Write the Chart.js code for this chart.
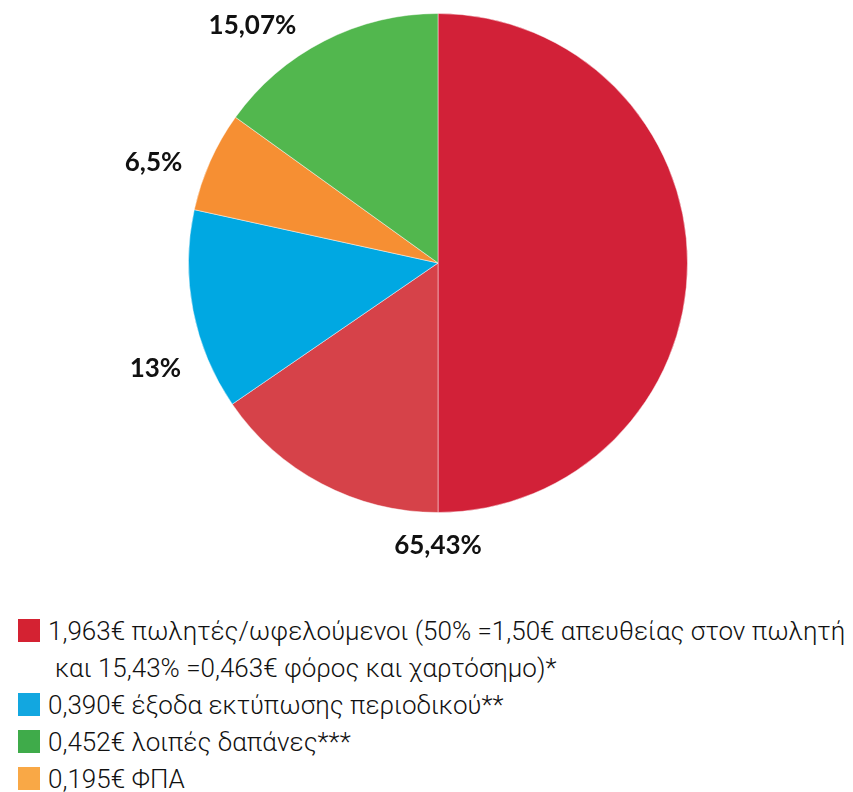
<!DOCTYPE html>
<html>
<head>
<meta charset="utf-8">
<script src="https://cdn.jsdelivr.net/npm/chart.js@4.4.0/dist/chart.umd.min.js"></script>
<style>
   html, body { margin: 0; padding: 0; background: #fff; }
   #wrap { position: relative; width: 853px; height: 792px; }
   #chart-box { position: absolute; left: 0; top: 0; width: 853px; height: 600px; }
   #legend { position: absolute; left: 18px; top: 612px; font-family: "Roboto", sans-serif; font-weight: 300; font-size: 26px; color: #111; }
   .row { display: flex; align-items: center; height: 37px; white-space: nowrap; }
   .sq { width: 22px; height: 23px; margin-right: 8px; flex: none; }
   .cont { padding-left: 37px; }
</style>
</head>
<body>
<div id="wrap">
   <div id="chart-box"><canvas id="chart-pie"></canvas></div>
   <div id="legend"></div>
</div>
<script>
// slices, clockwise from the top
var valores = [50, 15.43, 13, 6.5, 15.07];
var colores = ["#D22138", "#D64249", "#00A8E2", "#F68F33", "#52B74E"];
var etiquetas = ["65,43%", "", "13%", "6,5%", "15,07%"];

// legend
var leyendaTextos = [
   ["1,963€ πωλητές/ωφελούμενοι (50% =1,50€ απευθείας στον πωλητή", "και 15,43% =0,463€ φόρος και χαρτόσημο)*"],
   ["0,390€ έξοδα εκτύπωσης περιοδικού**"],
   ["0,452€ λοιπές δαπάνες***"],
   ["0,195€ ΦΠΑ"],
];
var leyendaColores = ["#D42232", "#12A7E0", "#3FAB4A", "#F9A846"];

function buildLegend() {
   var html = "";
   leyendaTextos.forEach(function (lineas, i) {
      html += '<div class="row"><span class="sq" style="background:' + leyendaColores[i] + '"></span>' + lineas[0] + "</div>";
      for (var k = 1; k < lineas.length; k++) {
         html += '<div class="row cont">' + lineas[k] + "</div>";
      }
   });
   document.getElementById("legend").innerHTML = html;
}

// labels outside the pie; the first label sits on the end of its slice (group of two)
var outsideLabels = {
   id: "outsideLabels",
   afterDatasetsDraw: function (chart) {
      var ctx = chart.ctx;
      var arcs = chart.getDatasetMeta(0).data;
      ctx.save();
      ctx.font = "bold 26px Lato";
      ctx.fillStyle = "#111";
      ctx.textAlign = "center";
      ctx.textBaseline = "middle";
      arcs.forEach(function (arc, i) {
         if (!etiquetas[i]) return;
         var a = i === 0 ? arc.endAngle : arc.startAngle + (arc.endAngle - arc.startAngle) * 0.3;
         var d = arc.outerRadius + (i === 0 ? 33 : 52);
         ctx.fillText(etiquetas[i], arc.x + Math.cos(a) * d, arc.y + Math.sin(a) * d);
      });
      ctx.restore();
   },
};

var ctxPie = document.getElementById("chart-pie").getContext("2d");
window.grafica = new Chart(ctxPie, {
   type: "pie",
   plugins: [outsideLabels],
   data: {
      labels: etiquetas,
      datasets: [
         {
            data: valores,
            backgroundColor: colores,
            borderColor: "rgba(255, 255, 255, 0.45)",
            borderWidth: 1,
         },
      ],
   },
   options: {
      responsive: true,
      maintainAspectRatio: false,
      animation: false,
      layout: { padding: { top: 13, bottom: 87, left: 23, right: 0 } },
      plugins: {
         legend: { display: false },
         tooltip: { enabled: false },
      },
   },
});

buildLegend();
</script>
</body>
</html>
